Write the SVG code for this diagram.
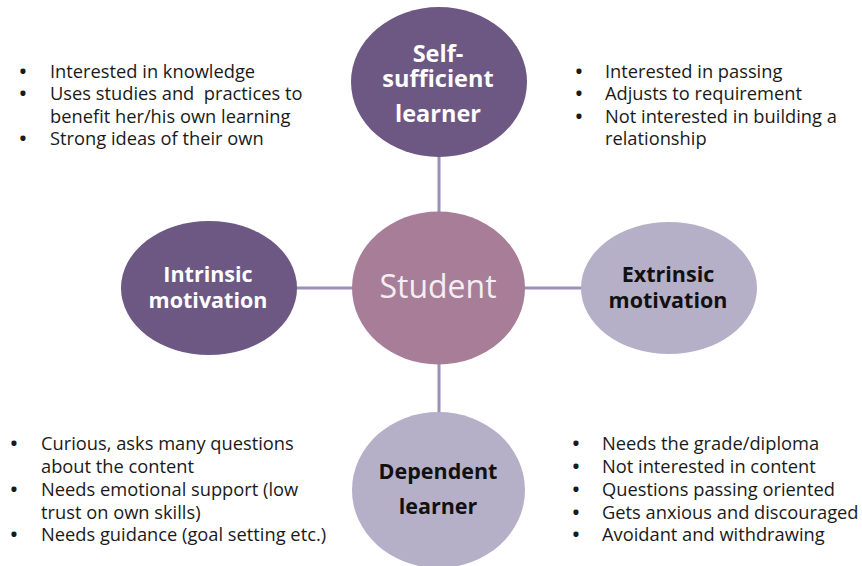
<svg xmlns="http://www.w3.org/2000/svg" width="862" height="566" viewBox="0 0 862 566">
<style>
.dark{fill:#6c5883}
.mid{fill:#a77d98}
.light{fill:#b6afc8}
.lbl{font-family:"Open Sans","DejaVu Sans",sans-serif;font-weight:bold;font-size:21.5px;text-anchor:middle}
.big{font-size:23.5px}
.w{fill:#ffffff}
.b{fill:#111111}
.txt{font-family:"Open Sans","DejaVu Sans",sans-serif;font-size:18.3px;fill:#1a1a1a}
.bul{text-anchor:middle;font-weight:bold}
.conn{stroke:#9b90b9;stroke-width:3;fill:none}
</style>
<rect width="862" height="566" fill="#ffffff"/>
<g id="connectors">
<line class="conn" x1="439" y1="156" x2="439" y2="213"/>
<line class="conn" x1="439" y1="364" x2="439" y2="413"/>
<line class="conn" x1="296" y1="288" x2="353" y2="288"/>
<line class="conn" x1="524" y1="288" x2="583" y2="288"/>
</g>
<g id="self-sufficient">
<ellipse class="dark" cx="439" cy="82" rx="88" ry="75"/>
<text class="lbl big w" x="438" y="62">Self-</text>
<text class="lbl big w" x="438" y="87">sufficient</text>
<text class="lbl big w" x="438" y="122">learner</text>
</g>
<g id="student">
<ellipse class="mid" cx="438.5" cy="288" rx="86.5" ry="76.5"/>
<text x="438" y="298" font-family="Open Sans, DejaVu Sans, sans-serif" font-size="32" fill="#f4eef2" text-anchor="middle">Student</text>
</g>
<g id="intrinsic">
<ellipse class="dark" cx="209" cy="288" rx="88" ry="67"/>
<text class="lbl w" x="208" y="282">Intrinsic</text>
<text class="lbl w" x="208" y="308">motivation</text>
</g>
<g id="extrinsic">
<ellipse class="light" cx="669" cy="288" rx="88" ry="66"/>
<text class="lbl b" x="668" y="282">Extrinsic</text>
<text class="lbl b" x="668" y="308">motivation</text>
</g>
<g id="dependent">
<ellipse class="light" cx="438.5" cy="490" rx="86.5" ry="78"/>
<text class="lbl b" x="438" y="479">Dependent</text>
<text class="lbl b" x="438" y="514">learner</text>
</g>
<g id="list-top-left" class="txt">
<text class="bul" x="23" y="78">•</text><text x="50" y="78">Interested in knowledge</text>
<text class="bul" x="23" y="100">•</text><text x="50" y="100" xml:space="preserve">Uses studies and  practices to</text>
<text x="50" y="123">benefit her/his own learning</text>
<text class="bul" x="23" y="145">•</text><text x="50" y="145">Strong ideas of their own</text>
</g>
<g id="list-top-right" class="txt">
<text class="bul" x="579" y="78">•</text><text x="605" y="78">Interested in passing</text>
<text class="bul" x="579" y="100">•</text><text x="605" y="100">Adjusts to requirement</text>
<text class="bul" x="579" y="123">•</text><text x="605" y="123">Not interested in building a</text>
<text x="605" y="145">relationship</text>
</g>
<g id="list-bottom-left" class="txt">
<text class="bul" x="14" y="450">•</text><text x="41" y="450">Curious, asks many questions</text>
<text x="41" y="473">about the content</text>
<text class="bul" x="14" y="496">•</text><text x="41" y="496">Needs emotional support (low</text>
<text x="41" y="519">trust on own skills)</text>
<text class="bul" x="14" y="541">•</text><text x="41" y="541">Needs guidance (goal setting etc.)</text>
</g>
<g id="list-bottom-right" class="txt">
<text class="bul" x="576" y="450">•</text><text x="602" y="450">Needs the grade/diploma</text>
<text class="bul" x="576" y="473">•</text><text x="602" y="473">Not interested in content</text>
<text class="bul" x="576" y="496">•</text><text x="602" y="496">Questions passing oriented</text>
<text class="bul" x="576" y="519">•</text><text x="602" y="519">Gets anxious and discouraged</text>
<text class="bul" x="576" y="541">•</text><text x="602" y="541">Avoidant and withdrawing</text>
</g>
</svg>
